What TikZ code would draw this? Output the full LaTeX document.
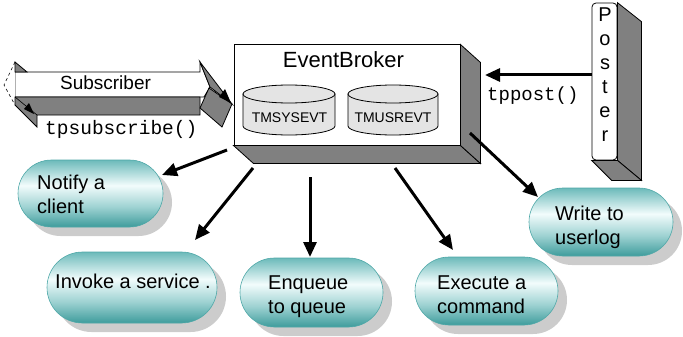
\documentclass[tikz,border=0pt]{standalone}
\usepackage{fontspec}
\setmainfont{Liberation Sans}
\setmonofont{Liberation Mono}
\usetikzlibrary{arrows.meta,shapes.misc,shadows,calc}
\definecolor{depthgrey}{HTML}{808080}
\definecolor{cylfill}{HTML}{E4E4E4}
\definecolor{tealtop}{HTML}{6CBABA}
\definecolor{teallight}{HTML}{F2FCFC}
\definecolor{tealmid}{HTML}{9ED2D2}
\definecolor{tealbot}{HTML}{3E9C9C}
\definecolor{tealedge}{HTML}{4FA8A8}
\definecolor{shadowgrey}{HTML}{CCCCCC}
\pgfdeclareverticalshading{pillshade}{100bp}{color(0bp)=(tealbot); color(25bp)=(tealbot); color(40bp)=(tealmid); color(56bp)=(teallight); color(75bp)=(tealtop); color(100bp)=(tealtop)}
\newcommand\twoln[2]{\begin{tabular}[t]{@{}l@{}}#1\\#2\end{tabular}}
\begin{document}
\begin{tikzpicture}[x=1pt,y=-1pt,
  pill/.style={rounded rectangle, draw=tealedge, line width=0.6pt, shade, shading=pillshade,
    drop shadow={shadow xshift=9pt, shadow yshift=-9pt, fill=shadowgrey, opacity=1}, inner sep=0pt},
  pilltext/.style={anchor=base west, inner sep=0pt, font=\fontsize{20}{24.5}\selectfont},
  bigarrow/.style={line width=3pt, -{Triangle[length=15pt,width=13pt]}},
  depth/.style={fill=depthgrey, draw=black, line width=0.8pt},
  codetext/.style={anchor=base west, inner sep=0pt, font=\ttfamily\fontsize{19.5}{22}\selectfont},
  cyl/.style={fill=cylfill, draw=black, line width=0.8pt},
  cyltext/.style={anchor=base, inner sep=0pt, font=\fontsize{14}{16}\selectfont}
]
\useasboundingbox (0,0) rectangle (683,337);

% ---- Subscriber 3D double arrow ----
\filldraw[fill=white, draw=black, line width=0.8pt] (15,72) -- (200,72) -- (200,62) -- (210,87) -- (204,97) -- (15,97) -- cycle;
\fill[white] (4,85) -- (15,62) -- (15,105) -- cycle;
\draw[dashed, line width=0.6pt] (15,62) -- (4,85) -- (15,105);
\filldraw[depth] (15,62) -- (27,72) -- (15,72) -- cycle;
\filldraw[depth] (15,97) -- (200,97) -- (200,115) -- (37,115) -- (37,127) -- (15,105) -- cycle;
\draw[line width=0.6pt] (15,97) -- (37,115);
\filldraw[depth] (200,62) -- (232,104) -- (210,87) -- cycle;
\filldraw[depth] (200,108) -- (209,88) -- (232,104) -- (222,127) -- cycle;
\fill[black] (34,114) -- (24,109) -- (29,103) -- cycle;
\fill[black] (231,103) -- (219,97) -- (225,89) -- cycle;
\node[anchor=base, inner sep=0pt, font=\fontsize{19}{22}\selectfont] (sublbl) at (105.5,89) {Subscriber};
\node[codetext] (subcall) at (45,134) {tpsubscribe()};

% ---- EventBroker box ----
\node[draw=black, fill=white, line width=1pt, minimum width=226pt, minimum height=100pt, inner sep=0pt] (broker) at (347,95) {};
\filldraw[depth] (broker.south west) -- ++(20,18) -- ($(broker.south east)+(20,18)$) -- (broker.south east) -- cycle;
\filldraw[depth] (broker.north east) -- ++(20,18) -- ($(broker.south east)+(20,18)$) -- (broker.south east) -- cycle;
\node[anchor=base, inner sep=0pt, font=\fontsize{22}{26}\selectfont] (brokerlbl) at (343.5,68) {EventBroker};

% cylinders
\filldraw[cyl] (243,94) -- (243,126) arc[start angle=180, end angle=360, x radius=46pt, y radius=9pt] -- (335,94) -- cycle;
\filldraw[cyl] (289,94) ellipse[x radius=46pt, y radius=9pt];
\node[cyltext] (sysevt) at (289.5,122) {TMSYSEVT};
\filldraw[cyl] (348,94) -- (348,126) arc[start angle=180, end angle=360, x radius=45pt, y radius=9pt] -- (438,94) -- cycle;
\filldraw[cyl] (393,94) ellipse[x radius=45pt, y radius=9pt];
\node[cyltext] (usrevt) at (393,122) {TMUSREVT};

% ---- Poster ----
\node[draw=black, fill=white, line width=0.8pt, rounded corners=4pt, minimum width=25pt, minimum height=157pt, inner sep=0pt] (poster) at (604.5,81.5) {};
\filldraw[depth] (poster.north east) -- ++(24,19) -- ($(poster.south east)+(24,20)$) -- (poster.south east) -- cycle;
\filldraw[depth] (poster.south west) -- ++(20,20) -- ($(poster.south east)+(24,20)$) -- (poster.south east) -- cycle;
\node[anchor=base, inner sep=0pt, font=\fontsize{20}{24}\selectfont] (posterlbl) at (605,22) {\begin{tabular}[t]{@{}c@{}}P\\o\\s\\t\\e\\r\end{tabular}};
\node[codetext, font=\ttfamily\fontsize{19}{22}\selectfont] (postcall) at (487,100) {tppost()};

% ---- pills ----
\node[pill, minimum width=145pt, minimum height=67pt] (notify) at (90.5,193.5) {};
\node[pilltext] (notifylbl) at (37,189) {\twoln{Notify a}{client}};
\node[pill, minimum width=170pt, minimum height=71pt] (invoke) at (132,287.5) {};
\node[pilltext] (invokelbl) at (55,288) {Invoke a service .};
\node[pill, minimum width=143pt, minimum height=69pt] (enqueue) at (311.5,292.5) {};
\node[pilltext] (enqueuelbl) at (268,289) {\twoln{Enqueue}{to queue}};
\node[pill, minimum width=143pt, minimum height=68pt] (execute) at (486.5,291) {};
\node[pilltext] (executelbl) at (437,289) {\twoln{Execute a}{command}};
\node[pill, minimum width=144pt, minimum height=68pt] (userlog) at (601,222) {};
\node[pilltext] (userloglbl) at (555,220) {\twoln{Write to}{userlog}};

% ---- connectors ----
\coordinate (s1) at (227,150); \coordinate (t1) at (162,175);
\coordinate (s2) at (253,168); \coordinate (t2) at (195,240);
\coordinate (s3) at (310,177); \coordinate (t3) at (310,257);
\coordinate (s4) at (395,168); \coordinate (t4) at (453,250);
\coordinate (s5) at (470,133); \coordinate (t5) at (538,197);
\coordinate (t6) at (485,75);
\draw[bigarrow] (s1) -- (t1);
\draw[bigarrow] (s2) -- (t2);
\draw[bigarrow] (s3) -- (t3);
\draw[bigarrow] (s4) -- (t4);
\draw[bigarrow] (s5) -- (t5);
\draw[bigarrow] (poster.west |- t6) -- (t6);
\end{tikzpicture}
\end{document}
